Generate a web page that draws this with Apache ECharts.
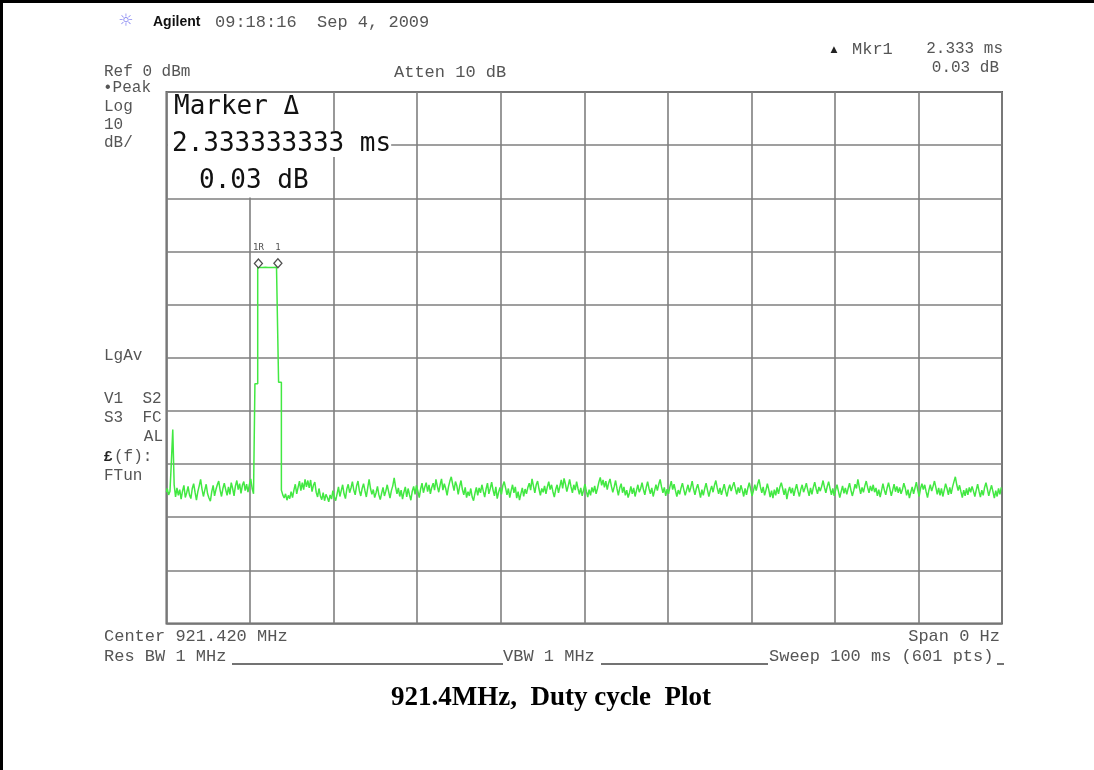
<!DOCTYPE html>
<html>
<head>
<meta charset="utf-8">
<script src="https://cdn.jsdelivr.net/npm/echarts@6/dist/echarts.min.js"></script>
<style>
  html, body { margin: 0; padding: 0; background: #fff; }
  #chart { width: 1094px; height: 770px; }
</style>
</head>
<body>
<div id="chart"></div>
<script>
// Zero-span sweep: 601 points across 100 ms, reference level 0 dBm, 10 dB/div
const SWEEP_MS = 100;
const SWEEP_POINTS = 601;
const REF_LEVEL_DBM = 0;
const DB_PER_DIV = 10;
const DIVISIONS = 10;

// Trace levels in dBm, point by point (points 0-6)
const traceLead = [-75.3, -74.6, -75.8, -75.1, -69.6, -63.5, -73.9];
// points 7-63
const traceNoiseBefore = [
  -76.2,-74.5,-75.9,-74.8,-76.6,-75.1,-74.0,-76.3,-75.4,-74.2,
  -75.8,-76.5,-74.6,-73.7,-75.3,-76.8,-75.2,-74.1,-72.9,-74.7,
  -76.1,-74.9,-73.8,-75.6,-76.4,-77.0,-75.2,-74.0,-76.0,-74.8,
  -73.9,-73.2,-74.9,-76.1,-74.6,-73.6,-74.8,-75.9,-74.3,-75.7,
  -73.5,-74.6,-76.0,-74.1,-73.1,-74.8,-73.7,-75.5,-74.0,-73.3,
  -75.0,-73.8,-75.3,-73.9,-72.8,-74.6,-75.6
];
// points 64-82: rising step, burst, falling step
const tracePulse = [
  -54.9,-54.9,
  -33.00,-33.00,-32.98,-33.02,-33.00,-32.99,-33.01,-33.00,-32.98,-33.00,-33.02,-33.00,-32.99,-32.98,-32.97,
  -54.6,-54.6
];
// points 83-600
const traceNoiseAfter = [
  -74.9,-75.8,-76.4,-75.6,-76.8,-75.9,-76.5,-75.2,-76.3,-74.9,-73.8,-75.6,-74.4,-73.2,-75.0,-73.5,-74.8,-72.9,-74.3,-73.1,
  -74.5,-73.0,-75.2,-74.0,-73.4,-75.3,-76.2,-74.6,-76.0,-76.7,-75.4,-76.9,-75.7,-76.3,-77.1,-75.8,-76.6,-75.0,-76.2,-76.9,
  -75.6,-74.3,-76.1,-75.0,-73.9,-75.6,-76.5,-74.7,-73.8,-75.4,-74.5,-73.3,-74.9,-75.8,-74.1,-73.2,-75.0,-76.0,-74.6,-73.7,
  -75.0,-76.2,-74.5,-72.9,-74.6,-75.7,-74.8,-76.3,-75.4,-74.2,-75.8,-76.7,-75.5,-74.4,-76.0,-75.1,-73.9,-75.2,-76.4,-75.0,
  -74.1,-72.6,-74.3,-75.6,-74.5,-76.1,-74.9,-76.6,-75.3,-74.3,-76.2,-74.6,-75.8,-76.8,-75.1,-74.2,-75.7,-74.0,-75.1,-76.3,
  -74.7,-73.6,-75.4,-74.3,-73.5,-75.2,-73.9,-75.6,-74.4,-73.6,-74.9,-72.9,-74.2,-75.3,-73.9,-72.8,-74.9,-73.7,-74.6,-75.9,
  -74.3,-73.2,-72.4,-73.8,-75.0,-73.3,-74.1,-75.7,-74.2,-73.1,-74.8,-75.8,-74.4,-76.3,-75.2,-76.0,-74.6,-76.2,-76.9,-75.5,
  -74.4,-75.9,-74.5,-75.4,-73.9,-75.1,-76.2,-74.7,-73.6,-75.6,-74.6,-73.4,-74.9,-76.0,-74.3,-76.5,-75.3,-74.4,-75.7,-74.1,
  -73.3,-74.5,-75.8,-74.6,-76.3,-75.0,-73.9,-75.4,-74.3,-76.4,-75.2,-76.8,-75.6,-74.5,-76.1,-74.7,-75.6,-74.4,-73.6,-74.9,
  -72.8,-74.1,-75.4,-73.9,-73.2,-74.7,-75.9,-74.6,-75.3,-74.1,-75.6,-74.3,-73.3,-74.8,-73.9,-75.2,-76.2,-74.8,-73.9,-75.4,
  -74.2,-73.0,-74.6,-72.7,-73.8,-75.2,-74.1,-72.9,-74.3,-75.4,-73.9,-74.9,-73.3,-74.6,-75.7,-74.5,-76.0,-74.9,-73.8,-75.1,
  -76.2,-74.8,-75.9,-74.4,-75.3,-74.1,-75.6,-74.6,-73.4,-72.5,-74.0,-73.0,-74.4,-73.2,-74.8,-73.6,-72.8,-74.2,-75.3,-74.3,
  -73.1,-74.6,-75.9,-74.5,-73.7,-75.4,-74.3,-75.9,-74.9,-76.3,-75.4,-74.2,-75.6,-74.5,-76.1,-75.0,-73.9,-75.3,-74.6,-73.5,
  -74.8,-75.8,-74.4,-73.3,-74.6,-75.6,-74.5,-76.1,-75.0,-73.9,-75.0,-73.8,-72.9,-74.3,-75.4,-74.4,-76.0,-74.7,-75.6,-74.3,
  -73.2,-74.8,-73.8,-75.0,-76.1,-74.9,-75.7,-74.5,-73.6,-74.8,-75.9,-74.9,-73.9,-75.3,-74.4,-73.2,-74.7,-75.8,-74.6,-73.8,
  -75.0,-76.3,-74.8,-75.9,-74.6,-73.6,-74.9,-76.1,-75.0,-74.1,-75.3,-74.0,-73.1,-74.5,-75.6,-74.5,-75.8,-74.8,-73.8,-75.1,
  -76.1,-74.7,-73.9,-75.1,-74.2,-73.4,-74.6,-75.7,-74.4,-75.4,-74.0,-74.9,-76.1,-74.6,-75.8,-74.5,-73.5,-74.7,-76.0,-75.0,
  -73.9,-75.0,-73.8,-72.9,-74.3,-75.4,-74.3,-75.9,-74.9,-73.7,-74.8,-76.2,-75.0,-76.4,-74.8,-75.9,-74.4,-75.6,-74.3,-73.5,
  -74.6,-75.8,-74.6,-76.6,-75.2,-74.3,-75.5,-74.5,-76.0,-74.8,-73.8,-75.1,-76.1,-74.8,-73.9,-75.3,-74.5,-73.6,-74.9,-76.0,
  -74.5,-75.7,-74.4,-73.4,-74.6,-75.6,-74.3,-75.1,-74.2,-73.1,-74.4,-75.4,-74.2,-73.3,-74.6,-75.8,-74.6,-76.0,-74.9,-73.9,
  -75.1,-76.3,-75.2,-74.1,-75.5,-74.5,-75.7,-74.6,-73.6,-74.9,-76.0,-75.0,-73.8,-74.6,-72.9,-74.3,-75.6,-74.4,-75.3,-74.1,
  -73.2,-74.4,-75.4,-74.1,-75.1,-73.9,-75.3,-74.5,-76.0,-74.8,-76.2,-75.0,-73.7,-74.9,-75.8,-74.5,-73.5,-74.7,-76.0,-74.9,
  -73.8,-75.2,-74.2,-75.4,-74.4,-75.6,-74.8,-73.6,-74.5,-75.9,-74.8,-76.4,-75.3,-74.3,-75.6,-74.5,-73.4,-74.9,-76.1,-74.6,
  -73.7,-74.8,-73.9,-75.2,-76.3,-74.9,-73.9,-75.1,-74.2,-73.2,-74.4,-75.7,-74.5,-75.9,-74.6,-76.1,-74.9,-73.7,-74.6,-75.8,
  -74.4,-75.6,-74.3,-73.3,-72.4,-73.9,-75.0,-74.0,-75.2,-76.3,-74.9,-76.0,-74.6,-75.8,-74.4,-75.3,-74.2,-75.1,-76.1,-74.9,
  -73.8,-75.1,-76.2,-74.9,-75.9,-74.4,-73.5,-74.7,-76.0,-74.9,-74.0,-75.2,-76.4,-75.0,-76.1,-74.6,-75.7,-74.4
];

// Delta marker pair: reference marker and marker 1, given as sweep point indices
const markerPointIndex = [66, 80];
const markerNames = ['1R', '1'];

const traceLevels = [].concat(traceLead, traceNoiseBefore, tracePulse, traceNoiseAfter);
const msPerPoint = SWEEP_MS / (SWEEP_POINTS - 1);
const traceData = traceLevels.map((v, i) => [i * msPerPoint, v]);

const markerData = markerPointIndex.map((p, k) => ({
  value: [p * msPerPoint, traceLevels[p]],
  name: markerNames[k]
}));
const deltaMs = (markerPointIndex[1] - markerPointIndex[0]) * msPerPoint;
const deltaDb = traceLevels[markerPointIndex[1]] - traceLevels[markerPointIndex[0]];

const LCD = "'Liberation Mono', 'DejaVu Sans Mono', monospace";
const BIG = "'DejaVu Sans Mono', 'Liberation Mono', monospace";
const LCD_COLOR = '#555';

function lcdText(x, y, text, align, size) {
  return {
    type: 'text', x: x, y: y, z: 10,
    style: {
      text: text, fill: LCD_COLOR, font: (size || 17) + 'px ' + LCD,
      textAlign: align || 'left', textVerticalAlign: 'middle'
    }
  };
}
function hLine(x1, x2, y, color, w) {
  return { type: 'line', z: 10, shape: { x1: x1, y1: y, x2: x2, y2: y },
           style: { stroke: color, lineWidth: w } };
}

const chart = echarts.init(document.getElementById('chart'), null, { renderer: 'canvas' });

chart.setOption({
  animation: false,
  backgroundColor: '#ffffff',
  grid: {
    left: 166.5, top: 92, right: 92, bottom: 146.5,
    show: true, borderColor: '#5e5e5e', borderWidth: 2, backgroundColor: '#ffffff'
  },
  xAxis: {
    type: 'value', min: 0, max: SWEEP_MS, interval: SWEEP_MS / DIVISIONS,
    axisLine: { show: false }, axisTick: { show: false }, axisLabel: { show: false },
    splitLine: { show: true, lineStyle: { color: '#7f7f7f', width: 1.6 } }
  },
  yAxis: {
    type: 'value',
    min: REF_LEVEL_DBM - DB_PER_DIV * DIVISIONS, max: REF_LEVEL_DBM, interval: DB_PER_DIV,
    axisLine: { show: false }, axisTick: { show: false }, axisLabel: { show: false },
    splitLine: { show: true, lineStyle: { color: '#7f7f7f', width: 1.6 } }
  },
  series: [
    {
      type: 'line', data: traceData, showSymbol: false, symbol: 'none', step: 'middle',
      lineStyle: { color: '#42e842', width: 1.5 }, z: 3
    },
    {
      type: 'scatter', data: markerData, symbol: 'diamond', symbolSize: [8, 9],
      symbolOffset: [0, -4], z: 4,
      itemStyle: { color: '#ffffff', borderColor: '#222', borderWidth: 1.3 },
      label: {
        show: true, position: 'top', distance: 2,
        formatter: p => p.name, fontSize: 9, color: '#222', fontFamily: BIG,
        offset: [0, -4]
      }
    }
  ],
  graphic: [
    // page frame
    hLine(0, 1094, 1.5, '#000', 3),
    { type: 'line', z: 10, shape: { x1: 1.5, y1: 0, x2: 1.5, y2: 770 }, style: { stroke: '#000', lineWidth: 3 } },

    // header
    { type: 'text', x: 126, y: 22, z: 10,
      style: { text: '☼', fill: '#8a8af2', font: '17px DejaVu Sans', textAlign: 'center', textVerticalAlign: 'middle' } },
    { type: 'text', x: 153, y: 22, z: 10,
      style: { text: 'Agilent', fill: '#111', font: 'bold 14px Liberation Sans', textVerticalAlign: 'middle' } },
    lcdText(215, 22, '09:18:16  Sep 4, 2009'),
    { type: 'text', x: 834, y: 50, z: 10,
      style: { text: '▲', fill: '#222', font: '9px DejaVu Sans', textAlign: 'center', textVerticalAlign: 'middle' } },
    lcdText(852, 49, 'Mkr1'),
    lcdText(1003, 49, deltaMs.toFixed(3) + ' ms', 'right', 16),
    lcdText(999, 68, deltaDb.toFixed(2) + ' dB', 'right', 16),
    lcdText(104, 72, 'Ref 0 dBm', 'left', 16),
    lcdText(394, 72, 'Atten 10 dB'),

    // left annotation column
    lcdText(103, 88, '•Peak', 'left', 16),
    lcdText(104, 107, 'Log', 'left', 16),
    lcdText(104, 125, '10', 'left', 16),
    lcdText(104, 143, 'dB/', 'left', 16),
    lcdText(104, 356, 'LgAv', 'left', 16),
    lcdText(104, 399, 'V1  S2', 'left', 16),
    lcdText(104, 418, 'S3  FC', 'left', 16),
    lcdText(163, 437, 'AL', 'right', 16),
    { type: 'text', x: 104, y: 457, z: 10,
      style: { text: '£', fill: '#222', font: 'bold 15px Liberation Sans', textVerticalAlign: 'middle' } },
    lcdText(114, 457, '(f):', 'left', 16),
    lcdText(104, 476, 'FTun', 'left', 16),

    // delta marker readout box
    { type: 'rect', z: 8, shape: { x: 168, y: 93, width: 164.5, height: 104.5 },
      style: { fill: '#ffffff', stroke: null } },
    { type: 'text', x: 174, y: 107, z: 10,
      style: { text: 'Marker Δ', fill: '#111', font: '26px ' + BIG, textVerticalAlign: 'middle' } },
    { type: 'text', x: 172, y: 144, z: 10,
      style: { text: deltaMs.toFixed(9) + ' ms', fill: '#111', font: '26px ' + BIG,
               textVerticalAlign: 'middle', backgroundColor: '#ffffff' } },
    { type: 'text', x: 199, y: 181, z: 10,
      style: { text: deltaDb.toFixed(2) + ' dB', fill: '#111', font: '26px ' + BIG, textVerticalAlign: 'middle' } },

    // footer
    lcdText(104, 636, 'Center 921.420 MHz'),
    lcdText(1000, 636, 'Span 0 Hz', 'right'),
    lcdText(104, 656, 'Res BW 1 MHz'),
    hLine(232, 503, 664, '#444', 1.5),
    lcdText(503, 656, 'VBW 1 MHz'),
    hLine(601, 768, 664, '#444', 1.5),
    lcdText(769, 656, 'Sweep 100 ms (601 pts)'),
    hLine(997, 1004, 664, '#444', 1.5),

    // caption
    { type: 'text', x: 551, y: 698, z: 10,
      style: { text: '921.4MHz,  Duty cycle  Plot', fill: '#000', font: 'bold 27px Liberation Serif',
               textAlign: 'center', textVerticalAlign: 'middle' } }
  ]
});
</script>
</body>
</html>
